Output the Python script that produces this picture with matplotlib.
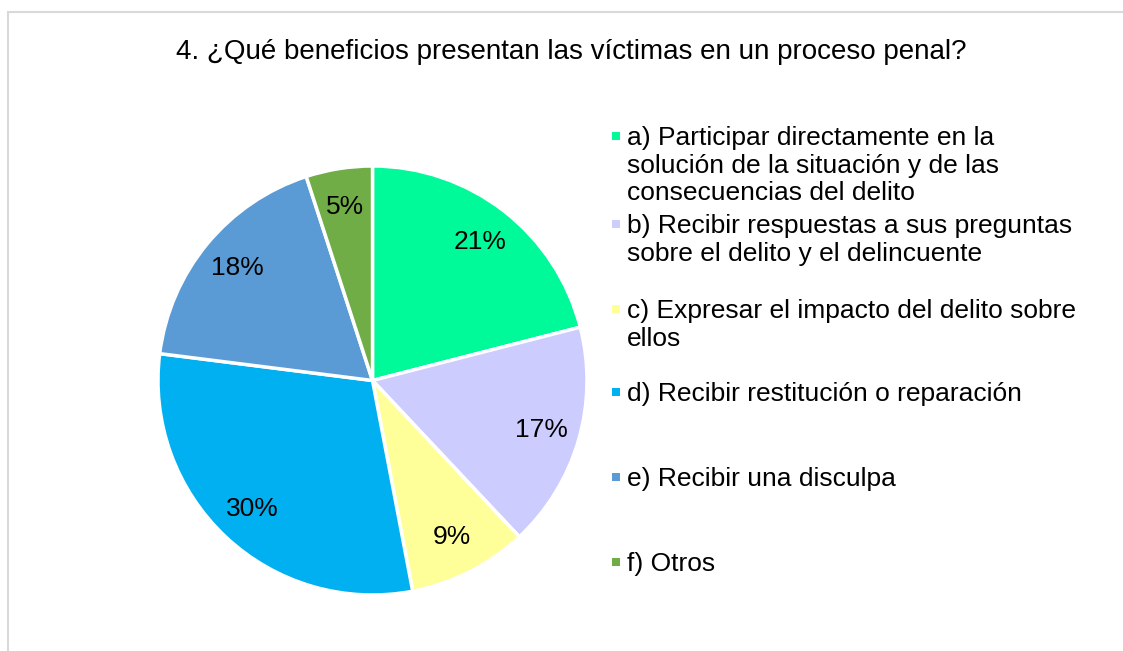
import matplotlib.pyplot as plt
from matplotlib.patches import Rectangle

plt.rcParams['font.family'] = ['Liberation Sans', 'DejaVu Sans']

# Data
labels = [
    "a) Participar directamente en la\nsolución de la situación y de las\nconsecuencias del delito",
    "b) Recibir respuestas a sus preguntas\nsobre el delito y el delincuente",
    "c) Expresar el impacto del delito sobre\nellos",
    "d) Recibir restitución o reparación",
    "e) Recibir una disculpa",
    "f) Otros",
]
values = [21, 17, 9, 30, 18, 5]
colors = ["#00FA9A", "#CCCCFF", "#FFFF99", "#00B0F0", "#5B9BD5", "#70AD47"]
title = "4. ¿Qué beneficios presentan las víctimas en un proceso penal?"

W, H = 1123, 651
fig = plt.figure(figsize=(W / 100, H / 100), dpi=100)

# chart border (cropped on right and bottom)
fig.patches.append(Rectangle((8 / W, -0.1), 1.2, (H - 12) / H + 0.1,
                             transform=fig.transFigure, fill=False,
                             edgecolor="#D9D9D9", linewidth=1.5))

# pie centre ~ (372.5, 380.5) px, radius ~214.5 px
cx, cy, r = 372.5, 380.5, 214.5
ax = fig.add_axes([(cx - r) / W, (H - cy - r) / H, 2 * r / W, 2 * r / H])
wedges, texts, autotexts = ax.pie(
    values, colors=colors, startangle=90, counterclock=False,
    autopct=lambda p: f"{p:.0f}%", pctdistance=0.82, radius=1,
    wedgeprops=dict(edgecolor="white", linewidth=2.5),
    textprops=dict(fontsize=19, color="black"))
ax.set_xlim(-1, 1)
ax.set_ylim(-1, 1)
ax.set_aspect("equal")
ax.axis("off")

fig.text(571 / W, 1 - 52 / H, title, ha="center", va="center", fontsize=20)

# legend drawn by hand to match the spacing in the original
legend_y = [137, 225, 310, 393, 478, 563]
for lab, col, y in zip(labels, colors, legend_y):
    fig.patches.append(Rectangle((612 / W, 1 - (y + 3) / H), 8 / W, 8 / H,
                                 transform=fig.transFigure, facecolor=col,
                                 edgecolor="none"))
    fig.text(627 / W, 1 - (y - 11) / H, lab, ha="left", va="top",
             fontsize=19, linespacing=1.19)

fig.savefig("out.png", dpi=100)
